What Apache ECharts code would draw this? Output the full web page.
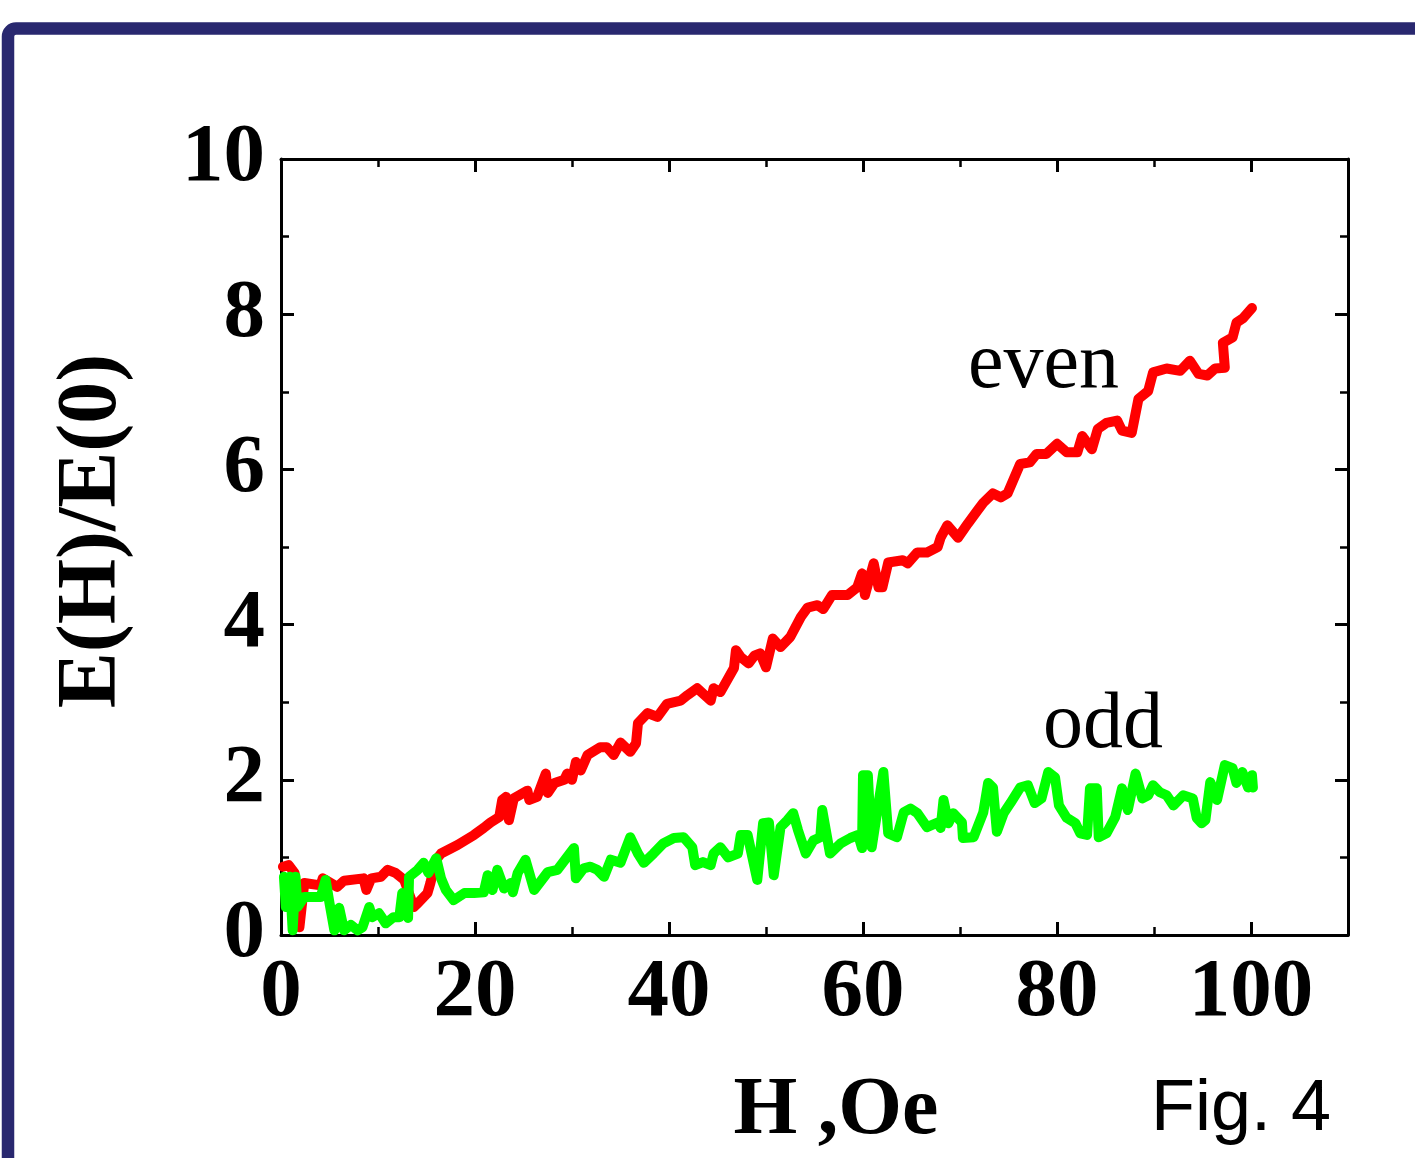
<!DOCTYPE html>
<html>
<head>
<meta charset="utf-8">
<script src="https://cdn.jsdelivr.net/npm/echarts@6/dist/echarts.min.js"></script>
<style>
  html, body { margin: 0; padding: 0; background: #fff; }
  #chart { width: 1415px; height: 1158px; }
</style>
</head>
<body>
<div id="chart"></div>
<script>
  // even harmonic
  const evenH = [0.2, 0.8, 1.4, 1.9, 2.4, 4.1, 4.3, 5.8, 6.5, 8.5, 8.8, 9.3, 10.3, 11.0, 11.8, 12.7, 13.7, 14.1, 15.1, 15.4,
    16.0, 16.5, 18.2, 19.9, 20.9, 21.6, 22.5, 22.8, 23.2, 23.5, 24.0, 25.4, 25.6, 26.4, 27.3, 27.5, 28.2, 29.2, 29.5, 30.0,
    30.4, 30.9, 31.6, 32.9, 33.6, 34.3, 35.0, 36.0, 36.6, 36.8, 37.8, 38.8, 39.8, 41.2, 41.9, 42.9, 44.3, 44.6, 45.3, 46.7,
    46.9, 47.4, 48.2, 48.8, 49.4, 50.0, 50.7, 51.5, 52.5, 53.6, 54.3, 55.3, 55.9, 56.8, 58.4, 59.4, 59.9, 60.2, 61.1, 61.6,
    62.0, 62.6, 64.1, 64.6, 65.6, 66.6, 67.7, 68.0, 68.7, 69.8, 70.8, 71.8, 72.4, 73.4, 74.2, 74.9, 76.2, 77.2, 77.9, 78.9,
    80.0, 81.0, 82.1, 82.6, 83.6, 84.2, 85.1, 86.2, 86.7, 87.7, 88.4, 89.4, 89.9, 91.3, 92.7, 93.7, 94.6, 95.5, 96.3, 97.3,
    97.1, 98.1, 98.5, 99.2, 100.1]
  const evenV = [0.88, 0.90, 0.80, 0.10, 0.67, 0.64, 0.73, 0.62, 0.70, 0.73, 0.58, 0.73, 0.75, 0.84, 0.80, 0.71, 0.36, 0.41, 0.54, 0.67,
    0.97, 1.05, 1.16, 1.29, 1.38, 1.45, 1.52, 1.74, 1.78, 1.48, 1.76, 1.86, 1.74, 1.78, 2.08, 1.83, 1.96, 2.00, 2.08, 2.00,
    2.23, 2.12, 2.32, 2.42, 2.42, 2.32, 2.48, 2.36, 2.47, 2.73, 2.86, 2.81, 2.98, 3.02, 3.09, 3.18, 3.02, 3.18, 3.13, 3.44,
    3.67, 3.58, 3.50, 3.60, 3.63, 3.45, 3.82, 3.71, 3.84, 4.10, 4.22, 4.25, 4.20, 4.38, 4.38, 4.48, 4.66, 4.38, 4.79, 4.48,
    4.48, 4.80, 4.83, 4.79, 4.93, 4.93, 5.00, 5.12, 5.28, 5.12, 5.30, 5.47, 5.57, 5.69, 5.64, 5.69, 6.07, 6.09, 6.20, 6.20,
    6.33, 6.22, 6.22, 6.43, 6.26, 6.52, 6.60, 6.63, 6.50, 6.47, 6.91, 7.01, 7.25, 7.30, 7.27, 7.40, 7.23, 7.21, 7.30, 7.31,
    7.63, 7.70, 7.89, 7.95, 8.08]

  // odd harmonic
  const oddH = [0.3, 0.5, 0.9, 1.2, 1.5, 1.7, 2.4, 4.1, 4.6, 5.0, 5.5, 6.0, 6.5, 7.2, 7.9, 8.4, 9.1, 9.4, 10.1, 10.8,
    11.6, 12.2, 12.5, 13.1, 13.2, 14.1, 14.7, 15.2, 16.0, 16.5, 17.0, 17.8, 18.9, 19.9, 20.9, 21.3, 21.8, 22.3, 23.0, 23.7,
    23.9, 24.4, 25.2, 26.1, 27.5, 28.5, 30.2, 30.4, 31.2, 31.9, 32.6, 33.3, 34.0, 35.0, 36.0, 36.8, 37.4, 38.4, 39.4, 40.5,
    41.5, 42.4, 42.7, 43.5, 44.3, 44.6, 45.3, 46.1, 47.1, 47.4, 48.1, 49.1, 49.7, 50.3, 50.8, 51.5, 52.2, 52.8, 53.3, 54.1,
    54.9, 55.6, 55.8, 56.6, 57.7, 58.7, 59.5, 59.9, 60.0, 60.5, 60.9, 62.1, 62.6, 63.5, 64.2, 64.9, 65.6, 66.6, 67.7, 68.0,
    68.3, 68.8, 69.3, 70.2, 70.3, 71.4, 72.4, 72.9, 73.4, 73.8, 74.5, 75.2, 76.2, 77.0, 77.7, 78.4, 79.1, 79.8, 80.2, 81.0,
    81.9, 82.4, 83.1, 83.4, 84.1, 84.3, 85.1, 86.0, 86.7, 87.3, 88.1, 88.8, 89.4, 89.9, 90.6, 91.3, 92.0, 92.7, 93.0, 94.0,
    94.4, 94.9, 95.3, 95.8, 96.5, 97.3, 98.1, 98.5, 99.1, 99.7, 100.1, 100.2]
  const oddV = [0.75, 0.36, 0.75, 0.06, 0.75, 0.36, 0.49, 0.49, 0.71, 0.41, 0.06, 0.35, 0.06, 0.13, 0.06, 0.10, 0.36, 0.23, 0.28, 0.15,
    0.23, 0.23, 0.54, 0.22, 0.75, 0.84, 0.93, 0.80, 0.99, 0.73, 0.58, 0.45, 0.54, 0.54, 0.55, 0.77, 0.58, 0.84, 0.60, 0.67,
    0.55, 0.80, 0.97, 0.58, 0.81, 0.84, 1.12, 0.73, 0.86, 0.88, 0.84, 0.75, 0.97, 0.93, 1.26, 1.05, 0.93, 1.05, 1.18, 1.25,
    1.26, 1.13, 0.90, 0.94, 0.90, 1.05, 1.13, 1.00, 1.05, 1.29, 1.29, 0.71, 1.44, 1.45, 0.77, 1.39, 1.48, 1.57, 1.35, 1.05,
    1.22, 1.26, 1.61, 1.05, 1.18, 1.25, 1.29, 1.12, 2.06, 2.06, 1.13, 2.10, 1.31, 1.26, 1.58, 1.63, 1.57, 1.39, 1.45, 1.38,
    1.74, 1.44, 1.57, 1.45, 1.25, 1.26, 1.58, 1.96, 1.90, 1.33, 1.57, 1.70, 1.90, 1.93, 1.70, 1.76, 2.10, 2.03, 1.67, 1.51,
    1.44, 1.31, 1.29, 1.89, 1.89, 1.26, 1.31, 1.52, 1.89, 1.61, 2.08, 1.76, 1.80, 1.93, 1.84, 1.80, 1.67, 1.76, 1.80, 1.76,
    1.51, 1.44, 1.48, 1.97, 1.74, 2.19, 2.15, 1.96, 2.10, 1.90, 2.06, 1.90]

  const xTicks = [0, 20, 40, 60, 80, 100]
  const yTicks = [0, 2, 4, 6, 8, 10]

  const pairs = (hs, vs) => hs.map((h, i) => [h, vs[i]])

  const chart = echarts.init(document.getElementById('chart'))

  const axisLine = { show: true, onZero: false, lineStyle: { color: '#000', width: 3 } }
  const tick = { show: true, inside: true, length: 13, lineStyle: { color: '#000', width: 3 } }
  const minor = { show: true, splitNumber: 2, length: 8, lineStyle: { color: '#000', width: 2.5 } }
  const labelFont = { fontFamily: 'Liberation Serif', fontWeight: 'bold', fontSize: 83, color: '#000' }

  const option = {
    animation: false,
    backgroundColor: '#fff',
    grid: { left: 281, top: 159, width: 1067, height: 776 },
    xAxis: [
      {
        type: 'value', min: 0, max: 110, interval: 20, position: 'bottom',
        axisLine: axisLine, axisTick: tick, minorTick: minor, splitLine: { show: false },
        axisLabel: Object.assign({ margin: 17, formatter: v => xTicks.indexOf(v) >= 0 ? v : '' }, labelFont)
      },
      {
        type: 'value', min: 0, max: 110, interval: 20, position: 'top',
        axisLine: axisLine, axisTick: tick, minorTick: minor, splitLine: { show: false },
        axisLabel: { show: false }
      }
    ],
    yAxis: [
      {
        type: 'value', min: 0, max: 10, interval: 2, position: 'left',
        axisLine: axisLine, axisTick: tick, minorTick: minor, splitLine: { show: false },
        axisLabel: Object.assign({ margin: 16, formatter: v => yTicks.indexOf(v) >= 0 ? v : '' }, labelFont)
      },
      {
        type: 'value', min: 0, max: 10, interval: 2, position: 'right',
        axisLine: axisLine, axisTick: tick, minorTick: minor, splitLine: { show: false },
        axisLabel: { show: false }
      }
    ],
    series: [
      {
        name: 'even', type: 'line', data: pairs(evenH, evenV), symbol: 'none',
        lineStyle: { color: '#ff0000', width: 10, join: 'round', cap: 'round' }, z: 3
      },
      {
        name: 'odd', type: 'line', data: pairs(oddH, oddV), symbol: 'none',
        lineStyle: { color: '#00ff00', width: 10, join: 'round', cap: 'round' }, z: 4
      }
    ],
    graphic: [
      {
        type: 'rect', silent: true,
        shape: { x: 8, y: 28.5, width: 1600, height: 1400, r: 8 },
        style: { fill: 'none', stroke: '#29286f', lineWidth: 12.5 }
      },
      {
        type: 'text', x: 93, y: 531, rotation: Math.PI / 2,
        style: { text: 'E(H)/E(0)', fontFamily: 'Liberation Serif', fontWeight: 'bold', fontSize: 84, fill: '#000', align: 'center', verticalAlign: 'middle' }
      },
      {
        type: 'text', x: 836, y: 1112,
        style: { text: 'H ,Oe', fontFamily: 'Liberation Serif', fontWeight: 'bold', fontSize: 82, fill: '#000', align: 'center', verticalAlign: 'middle' }
      },
      {
        type: 'text', x: 1241, y: 1110,
        style: { text: 'Fig. 4', fontFamily: 'Liberation Sans', fontSize: 72, fill: '#000', align: 'center', verticalAlign: 'middle' }
      },
      {
        type: 'text', x: 968, y: 366,
        style: { text: 'even', fontFamily: 'Liberation Serif', fontSize: 80, fill: '#000', align: 'left', verticalAlign: 'middle' }
      },
      {
        type: 'text', x: 1043, y: 726,
        style: { text: 'odd', fontFamily: 'Liberation Serif', fontSize: 80, fill: '#000', align: 'left', verticalAlign: 'middle' }
      }
    ]
  }

  chart.setOption(option)
</script>
</body>
</html>
